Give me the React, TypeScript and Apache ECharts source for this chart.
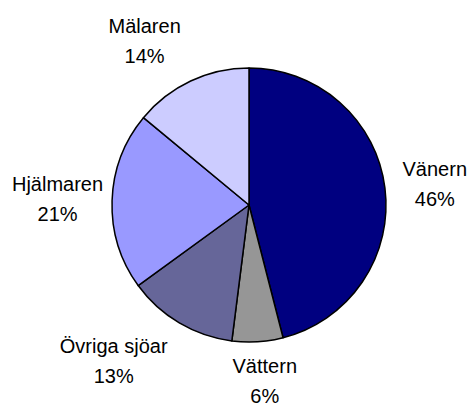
import React, { useEffect, useRef } from "react";
import * as echarts from "echarts";

const categories = ["Vänern", "Vättern", "Övriga sjöar", "Hjälmaren", "Mälaren"];
const shares = [46, 6, 13, 21, 14];

const sliceColors = ["#000080", "#969696", "#666699", "#9999FF", "#CCCCFF"];
const CX = 249;
const CY = 205;
const R = 137;
const GAP = 18;
const labelNudge: [number, number][] = [
  [0, 2],
  [4, -9],
  [-29, -3],
  [9, 0],
  [-23, 3],
];

export default function App() {
  const ref = useRef<HTMLDivElement>(null);
  useEffect(() => {
    if (!ref.current) return;
    const chart = echarts.init(ref.current, undefined, { renderer: "svg" });
    const total = shares.reduce((a, b) => a + b, 0);
    chart.setOption({
      animation: false,
      backgroundColor: "#ffffff",
      series: [
        {
          type: "pie",
          center: [CX, CY],
          radius: R,
          startAngle: 90,
          clockwise: true,
          avoidLabelOverlap: false,
          data: categories.map((name, i) => ({
            name,
            value: shares[i],
            itemStyle: { color: sliceColors[i] },
          })),
          itemStyle: { borderColor: "#000000", borderWidth: 1.5 },
          label: {
            show: true,
            position: "outside",
            formatter: (p: any) => `${p.name}\n${Math.round(p.percent)}%`,
            fontFamily: "'Liberation Sans', Arial, sans-serif",
            fontSize: 20,
            lineHeight: 30,
            color: "#000000",
            align: "center",
          },
          labelLine: { show: false },
          emphasis: { disabled: true },
          labelLayout: (params: any) => {
            const i = params.dataIndex;
            let before = 0;
            for (let k = 0; k < i; k++) before += shares[k];
            const mid = ((before + shares[i] / 2) / total) * Math.PI * 2;
            const ux = Math.sin(mid);
            const uy = -Math.cos(mid);
            const w = params.labelRect.width;
            const h = params.labelRect.height;
            return {
              x: CX + (R + GAP) * ux + (ux * w) / 2 + labelNudge[i][0],
              y: CY + (R + GAP) * uy + (uy * h) / 2 + labelNudge[i][1],
              align: "center",
              verticalAlign: "middle",
            };
          },
        },
      ],
    });
    return () => chart.dispose();
  }, []);
  return (
    <div
      ref={ref}
      style={{ position: "fixed", left: 0, top: 0, width: 469, height: 403, background: "#fff" }}
    />
  );
}
